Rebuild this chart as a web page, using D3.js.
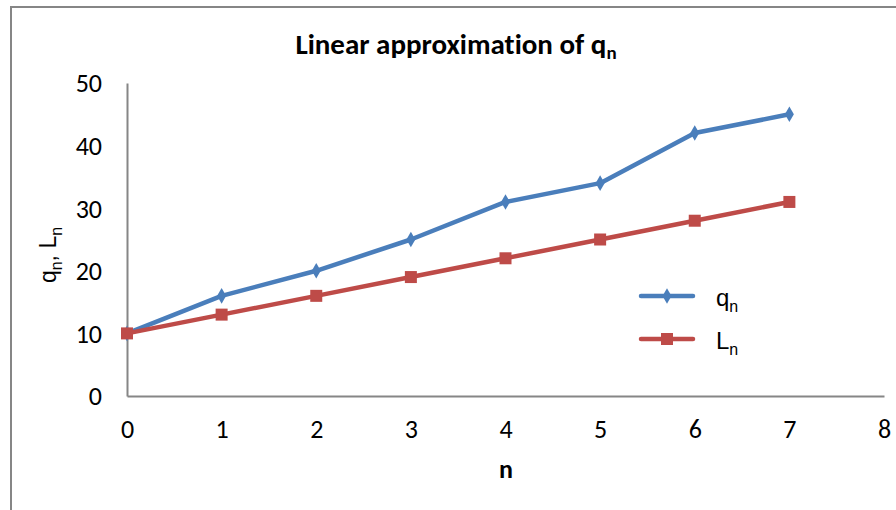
<!DOCTYPE html>
<html><head><meta charset="utf-8">
<script src="https://cdn.jsdelivr.net/npm/d3@7"></script>
<style>body{margin:0;background:#fff}svg{display:block}text{font-variant-ligatures:none}</style>
</head><body>
<script>
const nValues = [0,1,2,3,4,5,6,7];
const qValues = [10,16,20,25,31,34,42,45];
const lValues = [10,13,16,19,22,25,28,31];
const xTicks = [0,1,2,3,4,5,6,7,8];
const yTicks = [0,10,20,30,40,50];

const W=896,H=510;
const cal="Carlito,Lato,'Liberation Sans',Arial,sans-serif";
const ari="'Liberation Sans',Arial,sans-serif";
const svg=d3.select("body").append("svg").attr("width",W).attr("height",H);
svg.append("rect").attr("x",11).attr("y",7).attr("width",W).attr("height",H).attr("fill","#fff").attr("stroke","#868686").attr("stroke-width",2);

const x=d3.scaleLinear().domain([0,8]).range([127,884]);
const y=d3.scaleLinear().domain([0,50]).range([396,83]);

const xAxis=svg.append("g").attr("transform",`translate(0,${y(0)})`).call(d3.axisBottom(x).tickValues(xTicks).tickSize(0).tickPadding(0).tickFormat(d3.format("d")));
const yAxis=svg.append("g").attr("transform",`translate(${x(0)},0)`).call(d3.axisLeft(y).tickValues(yTicks).tickSize(0).tickPadding(25).tickFormat(d3.format("d")));
[xAxis,yAxis].forEach(a=>{a.select(".domain").attr("stroke","#868686").attr("stroke-width",2);a.selectAll("text").attr("font-size",26).attr("fill","#000").style("font-family",cal);});
xAxis.selectAll("text").attr("y",42).attr("dy",0);
yAxis.selectAll("text").attr("dy","0.34em");

// title
const t=svg.append("text").attr("x",456).attr("y",54).attr("text-anchor","middle").attr("font-size",29).attr("font-weight","bold").style("font-family",cal);
t.append("tspan").text("Linear approximation of q");
t.append("tspan").attr("font-size",19).attr("dy",5).text("n");

// x title
svg.append("text").attr("x",506).attr("y",478).attr("text-anchor","middle").attr("font-size",26).attr("font-weight","bold").style("font-family",cal).text("n");
// y title
const yt=svg.append("text").attr("transform","translate(56,255) rotate(-90)").attr("text-anchor","middle").attr("font-size",23).style("font-family",ari);
yt.append("tspan").text("q");
yt.append("tspan").attr("font-size",16).attr("dy",6).text("n");
yt.append("tspan").attr("dy",-6).text(", L");
yt.append("tspan").attr("font-size",16).attr("dy",6).text("n");

const line=d3.line().x((d,i)=>x(nValues[i])).y(d=>y(d));
const blue="#4a7ebb", red="#be4b48";
svg.append("path").datum(qValues).attr("d",line).attr("fill","none").attr("stroke",blue).attr("stroke-width",4.5).attr("stroke-linejoin","round").attr("stroke-linecap","round");
svg.append("path").datum(lValues).attr("d",line).attr("fill","none").attr("stroke",red).attr("stroke-width",4.5).attr("stroke-linejoin","round").attr("stroke-linecap","round");
const diamond=d3.symbol().type(d3.symbolDiamond).size(70);
svg.selectAll(".q").data(qValues).join("path").attr("transform",(d,i)=>`translate(${x(nValues[i])},${y(d)})`).attr("d",diamond).attr("fill",blue);
svg.selectAll(".l").data(lValues).join("rect").attr("x",(d,i)=>x(nValues[i])-6).attr("y",d=>y(d)-6).attr("width",12).attr("height",12).attr("fill",red);

// legend
const leg=[{name:"q",c:blue,shape:"d",yy:296},{name:"L",c:red,shape:"s",yy:339}];
leg.forEach(l=>{
  svg.append("line").attr("x1",641).attr("x2",693).attr("y1",l.yy).attr("y2",l.yy).attr("stroke",l.c).attr("stroke-width",4.5).attr("stroke-linecap","round");
  if(l.shape==="d") svg.append("path").attr("transform",`translate(667,${l.yy})`).attr("d",diamond).attr("fill",l.c);
  else svg.append("rect").attr("x",661).attr("y",l.yy-6).attr("width",12).attr("height",12).attr("fill",l.c);
  const tx=svg.append("text").attr("x",716).attr("y",l.yy+10).attr("font-size",24).style("font-family",ari);
  tx.append("tspan").text(l.name);
  tx.append("tspan").attr("font-size",16).attr("dy",6).text("n");
});
</script>
</body></html>
